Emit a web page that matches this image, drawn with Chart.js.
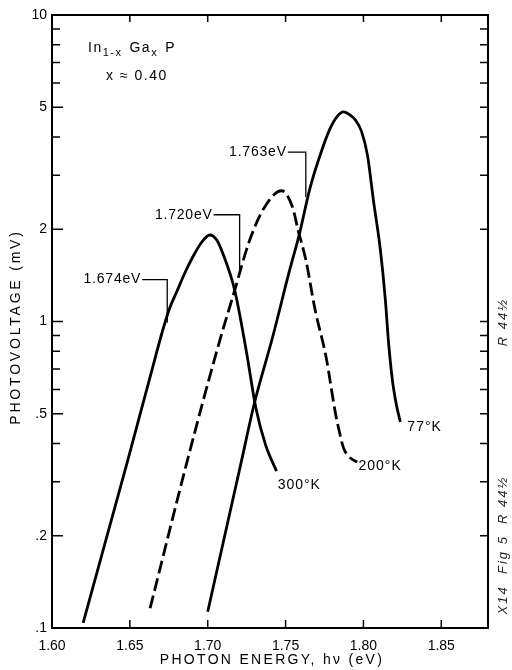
<!DOCTYPE html>
<html>
<head>
<meta charset="utf-8">
<script src="https://cdn.jsdelivr.net/npm/chart.js@4.4.1/dist/chart.umd.min.js"></script>
<style>
  html, body { margin: 0; padding: 0; background: #fff; }
  canvas { display: block; }
</style>
</head>
<body>
<canvas id="chart" width="512" height="670"></canvas>
<script>
// Photovoltage vs photon energy, In(1-x)Ga(x)P, x = 0.40
// valores leidos a ojo de la figura

const e300 = [1.620, 1.6487, 1.6628, 1.6712, 1.6756, 1.6801, 1.6853, 1.6904, 1.6962, 1.7013, 1.7058, 1.7096, 1.7173, 1.725, 1.7308, 1.7372, 1.7442];
const v300 = [0.104, 0.353, 0.654, 0.94, 1.107, 1.25, 1.44, 1.623, 1.817, 1.915, 1.845, 1.673, 1.267, 0.789, 0.526, 0.395, 0.325];

const e200 = [1.663, 1.687, 1.706, 1.717, 1.727, 1.7365, 1.7474, 1.7545, 1.758, 1.763, 1.769, 1.776, 1.782, 1.7846, 1.7872, 1.791, 1.796];
const v200 = [0.116, 0.353, 0.807, 1.248, 1.845, 2.36, 2.67, 2.36, 1.99, 1.59, 1.09, 0.766, 0.503, 0.436, 0.387, 0.361, 0.348];

const e77 = [1.700, 1.7218, 1.730, 1.7417, 1.7526, 1.759, 1.7654, 1.7712, 1.7782, 1.7833, 1.7872, 1.7923, 1.7949, 1.7987, 1.8026, 1.8064, 1.8109, 1.8141, 1.816, 1.8186, 1.8212, 1.8237];
const v77 = [0.113, 0.353, 0.542, 0.89, 1.47, 1.94, 2.69, 3.37, 4.22, 4.68, 4.83, 4.68, 4.54, 4.18, 3.49, 2.49, 1.71, 1.175, 0.87, 0.644, 0.534, 0.47];

const xTicks = [1.60, 1.65, 1.70, 1.75, 1.80, 1.85];
const xTickLabels = ['1.60', '1.65', '1.70', '1.75', '1.80', '1.85'];
const yTicks = [0.1, 0.2, 0.5, 1, 2, 5, 10];
const yTickLabels = ['.1', '.2', '.5', '1', '2', '5', '10'];
const yMinor = [0.2, 0.3, 0.4, 0.5, 0.6, 0.7, 0.8, 0.9, 1, 2, 3, 4, 5, 6, 7, 8, 9];

// etiquetas de temperatura y de energia de gap
const tempLabels = [
  { text: '300°K', e: 1.7449, v: 0.293 },
  { text: '200°K', e: 1.7968, v: 0.338 },
  { text: '77°K', e: 1.8282, v: 0.453 }
];
const gapLabels = [
  { text: '1.674eV', e: 1.674, vTop: 1.37, vEnd: 0.99, seg: 25 },
  { text: '1.720eV', e: 1.7205, vTop: 2.23, vEnd: 1.44, seg: 26 },
  { text: '1.763eV', e: 1.763, vTop: 3.57, vEnd: 2.55, seg: 18 }
];

const FONT = '"Liberation Sans", Arial, sans-serif';

function toPoints(es, vs) {
  return es.map((e, i) => ({ x: e, y: vs[i] }));
}

const lineStyle = {
  borderColor: '#000',
  borderWidth: 2.8,
  pointRadius: 0,
  fill: false,
  cubicInterpolationMode: 'monotone'
};

const decor = {
  id: 'decor',
  afterDraw(chart) {
    const { ctx, chartArea: a, scales: { x, y } } = chart;
    ctx.save();
    ctx.strokeStyle = '#000';
    ctx.fillStyle = '#000';

    // marco
    ctx.lineWidth = 2;
    ctx.strokeRect(a.left, a.top, a.right - a.left, a.bottom - a.top);

    // marcas hacia dentro
    ctx.lineWidth = 1.5;
    ctx.beginPath();
    xTicks.slice(1).forEach(v => {
      const px = x.getPixelForValue(v);
      ctx.moveTo(px, a.bottom); ctx.lineTo(px, a.bottom - 8);
      ctx.moveTo(px, a.top); ctx.lineTo(px, a.top + 7);
    });
    yMinor.forEach(v => {
      const py = y.getPixelForValue(v);
      const len = yTicks.includes(v) ? 11 : 8;
      ctx.moveTo(a.left, py); ctx.lineTo(a.left + len, py);
      ctx.moveTo(a.right, py); ctx.lineTo(a.right - 8, py);
    });
    ctx.stroke();

    // titulos de ejes
    ctx.font = '14px ' + FONT;
    ctx.textAlign = 'center';
    ctx.textBaseline = 'middle';
    ctx.letterSpacing = '2.3px';
    ctx.fillText('PHOTON ENERGY, hν (eV)', (a.left + a.right) / 2 + 2, 660);
    ctx.save();
    ctx.translate(16, 327);
    ctx.rotate(-Math.PI / 2);
    ctx.letterSpacing = '2.8px';
    ctx.fillText('PHOTOVOLTAGE (mV)', 0, 0);
    ctx.restore();

    // etiquetas con linea guia
    ctx.letterSpacing = '0.8px';
    ctx.textAlign = 'right';
    ctx.lineWidth = 1.3;
    gapLabels.forEach(g => {
      const px = x.getPixelForValue(g.e);
      const pyT = y.getPixelForValue(g.vTop);
      const pyE = y.getPixelForValue(g.vEnd);
      ctx.beginPath();
      ctx.moveTo(px - g.seg, pyT);
      ctx.lineTo(px, pyT);
      ctx.lineTo(px, pyE);
      ctx.stroke();
      ctx.fillText(g.text, px - g.seg - 1, pyT);
    });

    ctx.textAlign = 'left';
    ctx.letterSpacing = '1px';
    tempLabels.forEach(t => {
      ctx.fillText(t.text, x.getPixelForValue(t.e), y.getPixelForValue(t.v));
    });

    // In1-x Gax P
    let cx = 88;
    const cy = 48;
    const part = (txt, size, dy) => {
      ctx.font = size + 'px ' + FONT;
      ctx.fillText(txt, cx, cy + dy);
      cx += ctx.measureText(txt).width;
    };
    ctx.letterSpacing = '1.5px';
    part('In', 14, 0);
    part('1-x', 11, 5);
    cx += 7;
    part('Ga', 14, 0);
    part('x', 11, 5);
    cx += 7;
    part('P', 14, 0);
    ctx.font = '14px ' + FONT;
    ctx.fillText('x ≈ 0.40', 106, 76);

    // anotaciones a mano en el margen
    ctx.font = 'italic 13px ' + FONT;
    ctx.fillStyle = '#222';
    ctx.letterSpacing = '2px';
    ctx.textAlign = 'center';
    [['R 44½', 322], ['X14  Fig 5  R 44½', 545]].forEach(([txt, cyy]) => {
      ctx.save();
      ctx.translate(503, cyy);
      ctx.rotate(-Math.PI / 2);
      ctx.fillText(txt, 0, 0);
      ctx.restore();
    });

    ctx.restore();
  }
};

new Chart(document.getElementById('chart').getContext('2d'), {
  type: 'line',
  data: {
    datasets: [
      { label: '300°K', data: toPoints(e300, v300), ...lineStyle },
      { label: '200°K', data: toPoints(e200, v200), ...lineStyle, borderDash: [13, 5] },
      { label: '77°K', data: toPoints(e77, v77), ...lineStyle }
    ]
  },
  options: {
    responsive: false,
    animation: false,
    layout: { padding: { top: 15, right: 24, left: 0, bottom: 0 } },
    plugins: { legend: { display: false }, tooltip: { enabled: false } },
    scales: {
      x: {
        type: 'linear',
        min: 1.60,
        max: 1.88,
        grid: { display: false, drawTicks: false },
        border: { display: false },
        afterBuildTicks: s => { s.ticks = xTicks.map(v => ({ value: v })); },
        afterFit: s => { s.height = 42; },
        ticks: {
          autoSkip: false,
          maxRotation: 0,
          padding: 10,
          color: '#000',
          font: { family: FONT, size: 14 },
          callback: v => xTickLabels[xTicks.findIndex(t => Math.abs(t - v) < 1e-6)]
        }
      },
      y: {
        type: 'logarithmic',
        min: 0.1,
        max: 10,
        grid: { display: false, drawTicks: false },
        border: { display: false },
        afterBuildTicks: s => { s.ticks = yTicks.map(v => ({ value: v })); },
        afterFit: s => { s.width = 52; },
        ticks: {
          autoSkip: false,
          padding: 5,
          color: '#000',
          font: { family: FONT, size: 14 },
          callback: v => yTickLabels[yTicks.findIndex(t => Math.abs(t - v) < 1e-9)]
        }
      }
    }
  },
  plugins: [decor]
});
</script>
</body>
</html>
